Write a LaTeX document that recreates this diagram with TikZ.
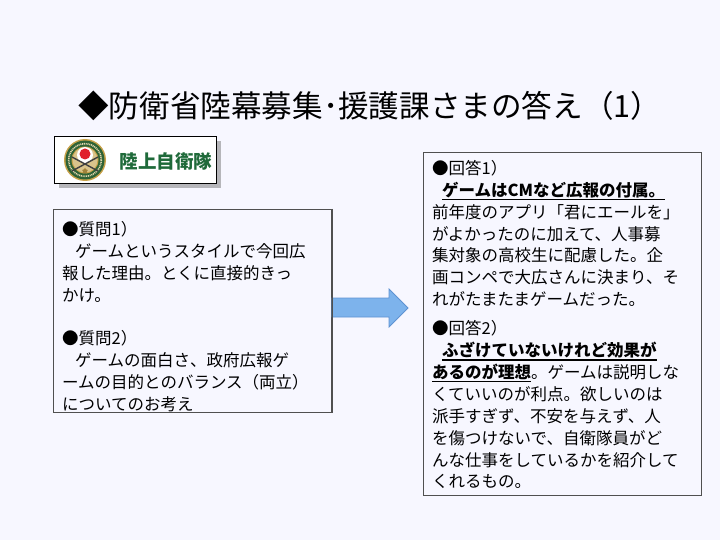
\documentclass[tikz,border=0pt]{standalone}
\usepackage{fontspec}
\setmainfont{Noto Sans CJK JP}
\usetikzlibrary{shapes.geometric}
\definecolor{bgcol}{HTML}{F7F7FF}
\definecolor{boxline}{HTML}{505050}
\definecolor{arrfill}{HTML}{7DB3EC}
\definecolor{arrline}{HTML}{5E92D2}
\definecolor{logogreen}{HTML}{1F6A3A}
\definecolor{embgold}{HTML}{C8A24A}
\definecolor{embgreen}{HTML}{2E6236}
\definecolor{embkhaki}{HTML}{D9C48C}
\definecolor{embred}{HTML}{E0202A}
\newcommand\myul[1]{\leavevmode\vtop{\hbox{#1}\kern1.2pt\hrule height1.3pt}}
\tikzset{
  panel/.style={draw=boxline, line width=1pt, fill=bgcol, inner sep=0pt, anchor=north west},
  bodytext/.style={inner sep=0pt, anchor=north west, align=left, font=\fontsize{16.5}{21.9}\selectfont},
  blockarrow/.style={fill=arrfill, draw=arrline, line width=0.8pt, line join=miter},
}
\begin{document}
\begin{tikzpicture}[x=1pt,y=-1pt]
\useasboundingbox (0,0) rectangle (720,540);
\fill[bgcol] (0,0) rectangle (720,540);

% title
\node[anchor=west, inner sep=0pt, font=\fontsize{30.6}{36}\selectfont] (title) at (78,106) {◆防衛省陸幕募集･援護課さまの答え（1）};

% logo
\fill[black!45, opacity=0.6] (59,141) rectangle (221,188);
\node[draw=black, line width=1.2pt, fill=white, minimum width=162, minimum height=47, inner sep=0pt, anchor=north west] (logo) at (54,136) {};
\coordinate (E) at (85,160);
\fill[embgold] (E) circle (21);
\fill[embgreen] (E) circle (19.5);
\draw[embkhaki!70!white, line width=1.6pt, dash pattern=on 1pt off 0.8pt] (E) circle (16.3);
\fill[embgold] (E) circle (13.5);
\fill[embkhaki] (E) circle (12.5);
\fill[white] ([shift={(0,-5)}]E) circle (8);
\fill[embred] ([shift={(0,-6)}]E) circle (5.5);
\draw[black!75, line width=1.4pt] ([shift={(-13,-3)}]E) -- ([shift={(13,11)}]E);
\draw[black!75, line width=1.4pt] ([shift={(13,-3)}]E) -- ([shift={(-13,11)}]E);
\node[star, star points=5, fill=embgold!80!black, minimum size=6pt, inner sep=0pt] (embstar) at ([shift={(0,11)}]E) {};
\node[anchor=center, inner sep=0pt, text=logogreen, font=\fontsize{18.5}{20}\selectfont\bfseries] (logotext) at (166,161) {陸上自衛隊};

% question box
\node[panel, minimum width=278, minimum height=203] (qbox) at (53,209) {};
\node[bodytext] (qtext) at (62,221) {●質問1）\\
\hspace*{13pt}ゲームというスタイルで今回広\\
報した理由。とくに直接的きっ\\
かけ。\\[21.9pt]
●質問2）\\
\hspace*{13pt}ゲームの面白さ、政府広報ゲ\\
ームの目的とのバランス（両立）\\
についてのお考え};

% answer box
\node[panel, minimum width=278, minimum height=343] (abox) at (423,152) {};
\node[bodytext] (atext) at (432,160) {●回答1）\\
\hspace*{10pt}\myul{\bfseries ゲームはCMなど広報の付属。}\\
前年度のアプリ「君にエールを」\\
がよかったのに加えて、人事募\\
集対象の高校生に配慮した。企\\
画コンペで大広さんに決まり、そ\\
れがたまたまゲームだった。\\[7pt]
●回答2）\\
\hspace*{10pt}\myul{\bfseries ふざけていないけれど効果が}\\
\myul{\bfseries あるのが理想}。ゲームは説明しな\\
くていいのが利点。欲しいのは\\
派手すぎず、不安を与えず、人\\
を傷つけないで、自衛隊員がど\\
んな仕事をしているかを紹介して\\
くれるもの。};

% block arrow
\coordinate (arrtip) at (408,308);
\draw[blockarrow] (qbox.east |- 0,298) -- (389,298) -- (389,289) -- (arrtip) -- (389,327) -- (389,317) -- (qbox.east |- 0,317) -- cycle;
\draw[boxline, line width=1pt] (qbox.north east) -- (qbox.south east);
\end{tikzpicture}
\end{document}
